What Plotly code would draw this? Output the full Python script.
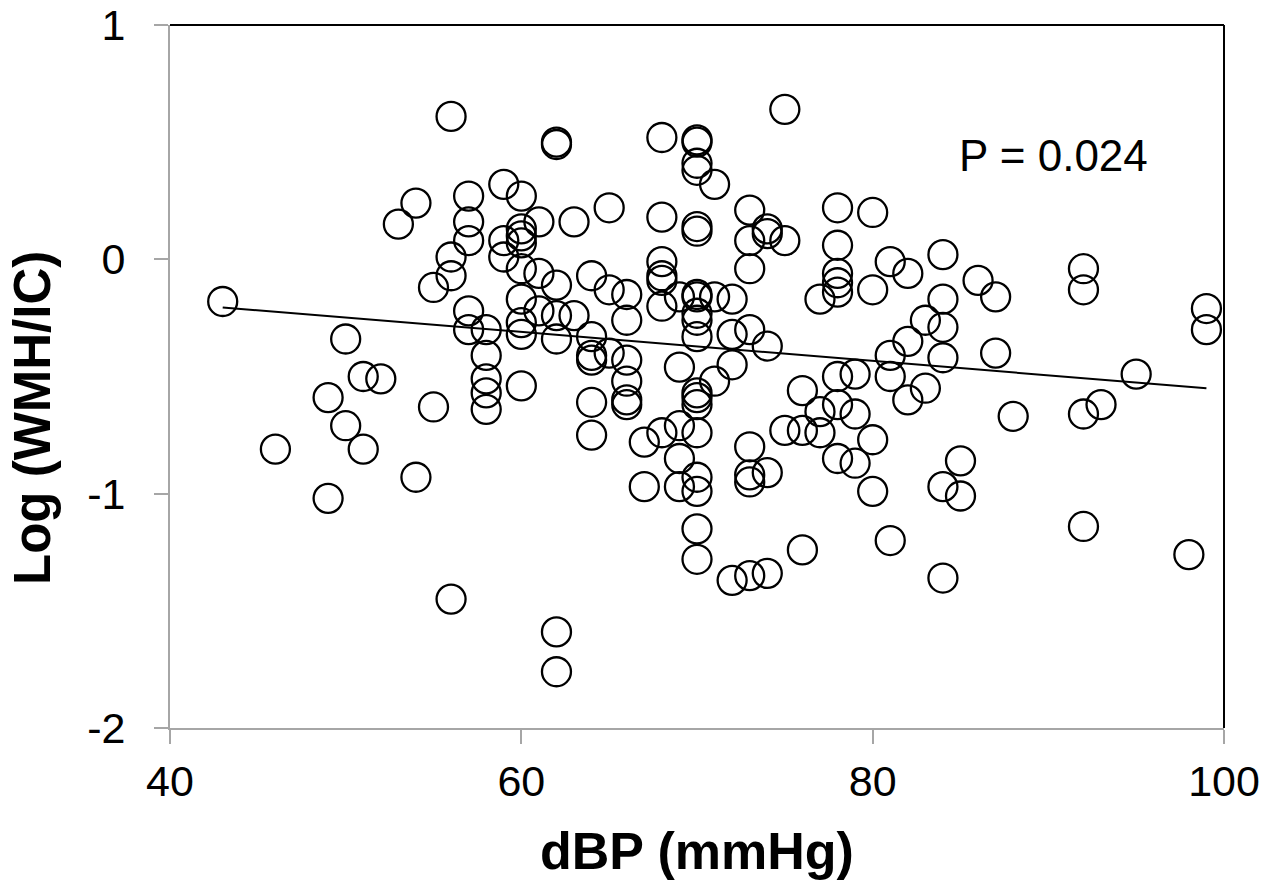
import numpy as np
import plotly.graph_objects as go

# dBP (mmHg) and Log(WMH/IC)
dbp = [43, 46, 49, 49, 50, 50, 51, 51, 52, 53, 54, 54, 55, 55,
       56, 56, 56, 56, 57, 57, 57, 57, 57, 58, 58, 58, 58, 58,
       59, 59, 59, 60, 60, 60, 60, 60, 60, 60, 60, 60,
       61, 61, 61, 62, 62, 62, 62, 62, 62, 62, 63, 63,
       64, 64, 64, 64, 64, 64, 65, 65, 65, 66, 66, 66, 66, 66, 66,
       67, 67, 68, 68, 68, 68, 68, 68, 68, 69, 69, 69, 69, 69,
       70, 70, 70, 70, 70, 70, 70, 70, 70, 70, 70, 70, 70, 70, 70, 70, 70, 70, 70,
       71, 71, 71, 72, 72, 72, 72, 73, 73, 73, 73, 73, 73, 73, 73,
       74, 74, 74, 74, 74, 75, 75, 75, 76, 76, 76, 77, 77, 77,
       78, 78, 78, 78, 78, 78, 78, 78, 79, 79, 79, 80, 80, 80, 80,
       81, 81, 81, 81, 82, 82, 82, 83, 83, 84, 84, 84, 84, 84, 84,
       85, 85, 86, 87, 87, 88, 92, 92, 92, 92, 93, 95, 98, 99, 99]
log_wmh = [-0.18, -0.81, -0.59, -1.02, -0.34, -0.71, -0.50, -0.81, -0.51, 0.15, 0.24, -0.93, -0.12, -0.63,
           0.61, 0.01, -0.07, -1.45, 0.27, 0.16, 0.08, -0.22, -0.30, -0.30, -0.41, -0.51, -0.57, -0.64,
           0.32, 0.08, 0.01, 0.27, 0.13, 0.10, 0.07, -0.04, -0.17, -0.27, -0.32, -0.54,
           0.16, -0.06, -0.22, 0.50, 0.49, -0.11, -0.24, -0.34, -1.59, -1.76, 0.16, -0.24,
           -0.07, -0.33, -0.41, -0.43, -0.61, -0.75, 0.22, -0.13, -0.40, -0.15, -0.26, -0.43, -0.52, -0.60, -0.62,
           -0.78, -0.97, 0.52, 0.18, -0.01, -0.07, -0.09, -0.20, -0.74, -0.16, -0.46, -0.71, -0.85, -0.97,
           0.51, 0.50, 0.41, 0.38, 0.14, 0.12, -0.15, -0.16, -0.23, -0.26, -0.33, -0.57, -0.59, -0.62, -0.74, -0.93, -0.99, -1.15, -1.28,
           0.32, -0.16, -0.52, -0.17, -0.32, -0.45, -1.37, 0.21, 0.08, -0.04, -0.30, -0.80, -0.92, -0.95, -1.35,
           0.13, 0.11, -0.37, -0.91, -1.34, 0.64, 0.08, -0.73, -0.56, -0.73, -1.24, -0.17, -0.65, -0.74,
           0.22, 0.06, -0.06, -0.10, -0.14, -0.50, -0.62, -0.85, -0.49, -0.66, -0.87, 0.20, -0.13, -0.77, -0.99,
           -0.01, -0.41, -0.50, -1.20, -0.06, -0.35, -0.60, -0.26, -0.55, 0.02, -0.17, -0.29, -0.42, -0.97, -1.36,
           -0.86, -1.01, -0.09, -0.16, -0.40, -0.67, -0.04, -0.13, -0.66, -1.14, -0.62, -0.49, -1.26, -0.21, -0.30]

x_ticks = [40, 60, 80, 100]
x_tick_text = ["40", "60", "80", "100"]
y_ticks = [-2, -1, 0, 1]
y_tick_text = ["-2", "-1", "0", "1"]
p_label = "P = 0.024"

x_arr = np.array(dbp, dtype=float)
y_arr = np.array(log_wmh, dtype=float)
slope, intercept = np.polyfit(x_arr, y_arr, 1)
fit_x = np.array([x_arr.min(), x_arr.max()])
fit_y = slope * fit_x + intercept

FONT = "Liberation Sans, Arial, sans-serif"
AX_GRAY = "#a6a6a6"

fig = go.Figure()
fig.add_trace(go.Scatter(
    x=dbp, y=log_wmh, mode="markers",
    marker=dict(symbol="circle-open", size=29, color="black",
                line=dict(color="black", width=2.3)),
    showlegend=False, hoverinfo="x+y"))
fig.add_trace(go.Scatter(
    x=fit_x, y=fit_y, mode="lines",
    line=dict(color="black", width=2), showlegend=False, hoverinfo="skip"))

fig.update_layout(
    width=1259, height=879,
    margin=dict(l=162, r=43, t=17, b=159, autoexpand=False),
    paper_bgcolor="white", plot_bgcolor="white",
    font=dict(family=FONT, size=43, color="black"),
    xaxis=dict(range=[40, 100], tickvals=x_ticks, ticktext=x_tick_text,
               ticks="outside", ticklen=14, automargin=False,
               ticklabeloverflow="allow",
               tickwidth=2, tickcolor=AX_GRAY, showline=True, linecolor=AX_GRAY,
               linewidth=2, showgrid=False, zeroline=False,
               tickfont=dict(family=FONT, size=43, color="black"),
               ticklabelstandoff=0),
    yaxis=dict(range=[-2, 1], tickvals=y_ticks, ticktext=y_tick_text,
               ticks="outside", ticklen=14, automargin=False,
               ticklabeloverflow="allow",
               tickwidth=2, tickcolor=AX_GRAY, showline=True, linecolor=AX_GRAY,
               linewidth=2, showgrid=False, zeroline=False,
               tickfont=dict(family=FONT, size=43, color="black"),
               ticklabelstandoff=20),
    shapes=[
        dict(type="line", xref="paper", yref="paper", x0=0, x1=1, y0=1, y1=1,
             line=dict(color="black", width=2)),
        dict(type="line", xref="paper", yref="paper", x0=1, x1=1, y0=0, y1=1,
             line=dict(color="black", width=2)),
    ],
    annotations=[
        dict(text="<b>dBP (mmHg)</b>", xref="paper", yref="paper", x=0.5, y=0,
             xanchor="center", yanchor="middle", yshift=-123, showarrow=False,
             font=dict(family=FONT, size=52, color="black")),
        dict(text="<b>Log (WMH/IC)</b>", xref="paper", yref="paper", x=0, y=0.441,
             xanchor="center", yanchor="middle", xshift=-137, textangle=-90,
             showarrow=False, font=dict(family=FONT, size=51, color="black")),
        dict(text=p_label, xref="x", yref="y", x=84.8, y=0.445,
             xanchor="left", yanchor="middle", showarrow=False,
             font=dict(family=FONT, size=44, color="black")),
    ],
)

fig.write_html("out.html")
